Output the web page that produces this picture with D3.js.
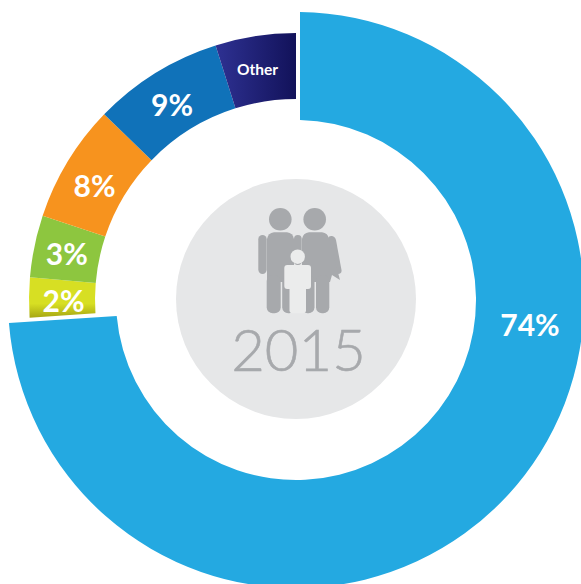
<!DOCTYPE html>
<html>
<head>
<meta charset="utf-8">
<script src="https://cdn.jsdelivr.net/npm/d3@7"></script>
<style>
  html, body { margin: 0; padding: 0; background: #fff; overflow: hidden; }
  svg { display: block; }
  text { font-family: Lato, "Open Sans", sans-serif; }
</style>
</head>
<body>
<script>
// slice names, the label printed on them and the share of the ring they really fill
var categories = ["Main", "Two", "Three", "Eight", "Nine", "Other"];
var labels = ["74%", "2%", "3%", "8%", "9%", "Other"];
var shares = [73.95, 2.41, 3.76, 7.13, 7.89, 4.87];
var year = "2015";

var w = 581, h = 584;
var cx = 296, cy = 300;

var svg = d3.select("body").append("svg")
    .attr("width", w)
    .attr("height", h);

// gradients on the two small slices that have them (coordinates are relative to the ring centre)
var defs = svg.append("defs");
var yellow = defs.append("linearGradient").attr("id", "yellowGrad")
    .attr("gradientUnits", "userSpaceOnUse")
    .attr("x1", 0).attr("x2", 0).attr("y1", -6).attr("y2", 18);
yellow.append("stop").attr("offset", "0.4").attr("stop-color", "#d7df23");
yellow.append("stop").attr("offset", "1").attr("stop-color", "#a5a512");
var navy = defs.append("linearGradient").attr("id", "navyGrad")
    .attr("gradientUnits", "userSpaceOnUse")
    .attr("x1", -80).attr("x2", 0).attr("y1", 0).attr("y2", 0);
navy.append("stop").attr("offset", "0").attr("stop-color", "#2e3192");
navy.append("stop").attr("offset", "1").attr("stop-color", "#12125a");

var colors = d3.scaleOrdinal()
    .domain(categories)
    .range(["#24a9e1", "url(#yellowGrad)", "#8dc63f", "#f7931e", "#1072b9", "url(#navyGrad)"]);

var pie = d3.pie().sort(null);
var slices = pie(shares);

var ring = svg.append("g")
    .attr("transform", "translate(" + cx + "," + cy + ")");

// first slice sticks out further than the rest, and has a small straight gap at both ends
var arcBig = d3.arc().innerRadius(180).outerRadius(288).padRadius(288).padAngle(8 / 288);
var arcSmall = d3.arc().innerRadius(201).outerRadius(267);

ring.selectAll(".slice")
    .data(slices)
    .enter()
    .append("path")
    .attr("class", "slice")
    .attr("d", function(d, i) {
        return i === 0 ? arcBig({ startAngle: d.startAngle, endAngle: d.endAngle })
                       : arcSmall({ startAngle: d.startAngle, endAngle: d.endAngle });
    })
    .attr("fill", function(d, i) { return colors(categories[i]); });

// labels
var labelPos = [
    { x: 530, y: 336, size: 30 },
    { x: 63.5, y: 312, size: 30 },
    { x: 66.8, y: 265, size: 30 },
    { x: 94.5, y: 196.7, size: 30 },
    { x: 172, y: 115.7, size: 30 },
    { x: 257.5, y: 75, size: 15.5 }
];

svg.selectAll(".label")
    .data(labels)
    .enter()
    .append("text")
    .attr("class", "label")
    .attr("text-anchor", "middle")
    .attr("x", function(d, i) { return labelPos[i].x; })
    .attr("y", function(d, i) { return labelPos[i].y; })
    .attr("font-size", function(d, i) { return labelPos[i].size; })
    .attr("font-weight", 700)
    .attr("fill", "#fff")
    .text(function(d) { return d; });

// grey disc in the middle
svg.append("circle")
    .attr("cx", 296).attr("cy", 299).attr("r", 120)
    .attr("fill", "#e6e7e8");

// family icon
var gray = "#a7a9ac", pale = "#ebecec";
var icon = svg.append("g");

function bar(x, y, width, height, r, fill) {
    icon.append("rect")
        .attr("x", x).attr("y", y)
        .attr("width", width).attr("height", height)
        .attr("rx", r)
        .attr("fill", fill);
}

icon.append("circle").attr("cx", 280.3).attr("cy", 219.3).attr("r", 11.3).attr("fill", gray);
icon.append("circle").attr("cx", 314.7).attr("cy", 219.3).attr("r", 11.3).attr("fill", gray);

// arms
bar(258.3, 235, 8.4, 39, 4.2, gray);
bar(294, 235, 7.7, 30, 3.8, gray);
icon.append("path")
    .attr("d", "M328,238 Q329,235.5 332,236 Q335,236.5 336,240 L341.5,270 Q342,274 338,274 L334,272 Z")
    .attr("fill", gray);

// torsos
icon.append("path")
    .attr("d", "M267,239 Q268,233 274,232.3 L287,232.3 Q293,233 294,239 L294,282 L267,282 Z")
    .attr("fill", gray);
icon.append("path")
    .attr("d", "M302,239 Q303,233 309,232.3 L322,232.3 Q328,233 329,239 L340,280 L332,275 L330,282 L302,282 Z")
    .attr("fill", gray);

// legs
bar(266.7, 275, 14, 38.3, 6, gray);
bar(282.2, 275, 13, 38.3, 6, gray);
bar(301.5, 275, 13, 38.3, 6, gray);
bar(316, 275, 13.3, 38.3, 6, gray);

// child, with a pale halo over the parents
icon.append("circle").attr("cx", 297.7).attr("cy", 256.7).attr("r", 7.2).attr("fill", pale);
bar(284.3, 265, 26.7, 24, 3, pale);
bar(289.5, 280, 16.5, 33.3, 3, pale);

// year under the icon
svg.append("text")
    .attr("x", 298.5).attr("y", 371)
    .attr("text-anchor", "middle")
    .attr("font-size", 58)
    .attr("font-weight", 300)
    .attr("fill", gray)
    .attr("stroke", gray)
    .attr("stroke-width", 0.6)
    .text(year);
</script>
</body>
</html>
